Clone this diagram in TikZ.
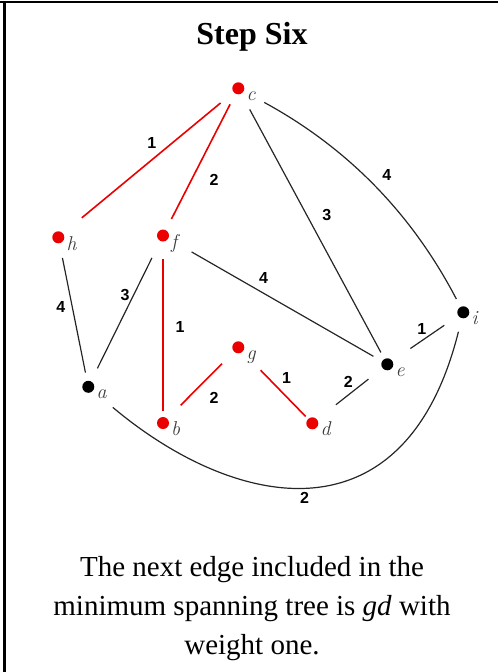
\documentclass[tikz,border=0pt]{standalone}
\usepackage{fontspec}
\setmainfont{Liberation Serif}
\newfontfamily\weightfont{Liberation Sans}
\newfontfamily\namefont{Latin Modern Roman}
\definecolor{mstred}{RGB}{235,0,0}
\definecolor{lblgray}{RGB}{60,60,60}
\begin{document}
\begin{tikzpicture}[x=1pt,y=-1pt,
  vdot/.style={circle,inner sep=0pt,minimum size=12pt,fill=#1},
  vlabel/.style={anchor=base west,inner sep=0pt,text=lblgray,font=\namefont\itshape\fontsize{20}{20}\selectfont},
  weight/.style={inner sep=0pt,font=\weightfont\bfseries\fontsize{16}{16}\selectfont},
  plain/.style={black!85,line width=1.2pt},
  tree/.style={mstred,line width=1.6pt},
  body/.style={anchor=base,inner sep=0pt,font=\fontsize{29}{29}\selectfont}]
\useasboundingbox (0,0) rectangle (498,672);
% frame
\draw[line width=2pt] (0,2) -- (498,2);
\draw[line width=2.6pt] (4.3,2) -- (4.3,672);
% title
\node[anchor=base,inner sep=0pt,font=\bfseries\fontsize{32}{32}\selectfont] (title) at (252,44) {Step Six};
% vertices
\node[vdot=mstred] (c) at (238.3,88.3) {};
\node[vdot=mstred] (h) at (58.3,237.3) {};
\node[vdot=mstred] (f) at (163,235.5) {};
\node[vdot=black] (a) at (88.3,386.8) {};
\node[vdot=mstred] (b) at (163,423) {};
\node[vdot=mstred] (g) at (238.3,347.3) {};
\node[vdot=mstred] (d) at (312.3,423.3) {};
\node[vdot=black] (e) at (387.3,364.3) {};
\node[vdot=black] (i) at (463.3,312.3) {};
% vertex names
\node[vlabel] (lc) at (246.5,100) {c};
\node[vlabel] (lh) at (66.5,250) {h};
\node[vlabel] (lf) at (171,248) {f};
\node[vlabel] (la) at (96.3,398.5) {a};
\node[vlabel] (lb) at (171,435) {b};
\node[vlabel] (lg) at (246.3,359) {g};
\node[vlabel] (ld) at (320.3,435.5) {d};
\node[vlabel] (le) at (395.3,376) {e};
\node[vlabel] (li) at (471.3,324.5) {i};
% edges not in the tree
\draw[plain,shorten <=24pt,shorten >=13.5pt] (c.center) -- (e.center);
\draw[plain,shorten <=29.5pt,shorten >=15pt] (c.center) .. controls (348,148) and (412,214) .. (i.center);
\draw[plain,shorten <=21pt,shorten >=14.5pt] (h.center) -- (a.center);
\draw[plain,shorten <=25pt,shorten >=20.5pt] (f.center) -- (a.center);
\draw[plain,shorten <=33pt,shorten >=16pt] (f.center) -- (e.center);
\draw[plain,shorten <=30pt,shorten >=24pt] (d.center) -- (e.center);
\draw[plain,shorten <=28pt,shorten >=23pt] (e.center) -- (i.center);
\draw[plain,shorten <=32pt,shorten >=20pt] (a.center) .. controls (235,510) and (405,545) .. (i.center);
% edges in the tree
\draw[tree,shorten <=23pt,shorten >=30.5pt] (c.center) -- (h.center);
\draw[tree,shorten <=18pt,shorten >=18.5pt] (c.center) -- (f.center);
\draw[tree,shorten <=23.5pt,shorten >=12pt] (f.center) -- (b.center);
\draw[tree,shorten <=23pt,shorten >=25pt] (g.center) -- (b.center);
\draw[tree,shorten <=32pt,shorten >=9.5pt] (g.center) -- (d.center);
% weights
\node[weight] (w1) at (151.7,143.3) {1};
\node[weight] (w2) at (214,180) {2};
\node[weight] (w3) at (326.7,215) {3};
\node[weight] (w4) at (386.7,175) {4};
\node[weight] (w5) at (263.5,278) {4};
\node[weight] (w6) at (60.7,307.3) {4};
\node[weight] (w7) at (125,295) {3};
\node[weight] (w8) at (180,327.3) {1};
\node[weight] (w9) at (214,397.7) {2};
\node[weight] (w10) at (286.5,378.3) {1};
\node[weight] (w11) at (348.3,381.7) {2};
\node[weight] (w12) at (421.7,329.3) {1};
\node[weight] (w13) at (304.5,498) {2};
% caption
\node[body] (t1) at (252,576.5) {The next edge included in the};
\node[body] (t2) at (252,615.5) {minimum spanning tree is \textit{gd} with};
\node[body] (t3) at (252,654) {weight one.};
\end{tikzpicture}
\end{document}
